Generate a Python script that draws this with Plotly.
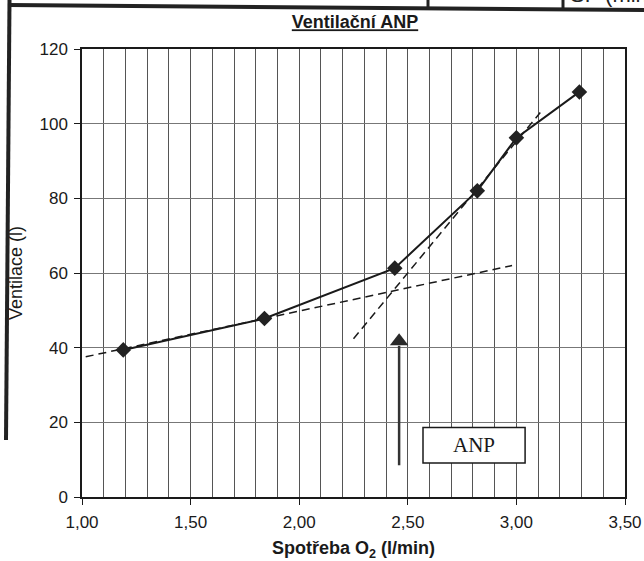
import plotly.graph_objects as go

# ---- data ----
vo2 = [1.19, 1.84, 2.44, 2.82, 3.00, 3.29]          # Spotřeba O2 (l/min)
ventilace = [39.4, 47.8, 61.3, 82.0, 96.2, 108.5]   # Ventilace (l)

trend1_x = [0.90, 2.98]      # lower dashed regression line
trend1_y = [36.1, 62.0]
trend2_x = [2.25, 3.11]      # upper dashed regression line
trend2_y = [42.4, 103.0]

anp_x = [2.46, 2.46]         # arrow shaft marking ANP
anp_y = [8.5, 40.5]
anp_head = [41.7]

anp_box_x = [2.57, 3.04]
anp_box_y = [9.1, 18.6]

x_ticks = [1.0, 1.5, 2.0, 2.5, 3.0, 3.5]
y_ticks = [0, 20, 40, 60, 80, 100, 120]

W, H = 644, 561
L, R, T, B = 82, 19, 49, 64
PW, PH = W - L - R, H - T - B


def px(x):
    return (x - L) / PW


def py(y):
    return (H - B - y) / PH


fig = go.Figure()

fig.add_trace(go.Scatter(x=trend1_x, y=trend1_y, mode="lines",
                         line=dict(color="#1a1a1a", width=1.5, dash="8px,5px"),
                         cliponaxis=False, hoverinfo="skip", showlegend=False))
fig.add_trace(go.Scatter(x=trend2_x, y=trend2_y, mode="lines",
                         line=dict(color="#1a1a1a", width=1.5, dash="8px,5px"),
                         hoverinfo="skip", showlegend=False))
fig.add_trace(go.Scatter(x=vo2, y=ventilace, mode="lines+markers",
                         line=dict(color="#1a1a1a", width=2),
                         marker=dict(symbol="diamond", size=12, color="#222222"),
                         showlegend=False))
fig.add_trace(go.Scatter(x=anp_x, y=anp_y, mode="lines",
                         line=dict(color="#333333", width=2.5),
                         hoverinfo="skip", showlegend=False))
fig.add_trace(go.Scatter(x=[anp_x[0]], y=anp_head, mode="markers",
                         marker=dict(symbol="triangle-up", size=16, color="#2a2a2a"),
                         hoverinfo="skip", showlegend=False))

# ANP label box
fig.add_shape(type="rect", xref="x", yref="y",
              x0=anp_box_x[0], x1=anp_box_x[1], y0=anp_box_y[0], y1=anp_box_y[1],
              line=dict(color="#1a1a1a", width=1.5), fillcolor="white", layer="above")
fig.add_annotation(x=sum(anp_box_x) / 2, y=sum(anp_box_y) / 2, xref="x", yref="y",
                   text="ANP", showarrow=False,
                   font=dict(family="Liberation Serif, Times New Roman, serif", size=21, color="#1a1a1a"))

# scanned form frame (decoration)
frame = [
    ((9.5, 0), (6, 440), 4),
    ((9, 5), (644, 10), 4),
    ((428, 0), (428, 7), 3),
    ((563, 0), (563, 10), 3),
]
for (x0, y0), (x1, y1), w in frame:
    fig.add_shape(type="line", xref="paper", yref="paper",
                  x0=px(x0), y0=py(y0), x1=px(x1), y1=py(y1),
                  line=dict(color="#222222", width=w))
fig.add_annotation(xref="paper", yref="paper", x=px(452), y=py(4), yanchor="bottom",
                   text="100", showarrow=False,
                   font=dict(family="Liberation Sans, Arial", size=22, color="#222"))
fig.add_annotation(xref="paper", yref="paper", x=px(568), y=py(9), xanchor="left", yanchor="bottom",
                   text="SP (min)", showarrow=False,
                   font=dict(family="Liberation Sans, Arial", size=22, color="#222"))

axis_font = dict(family="Liberation Sans, Arial", size=17, color="#1a1a1a")

fig.update_layout(
    width=W, height=H,
    margin=dict(l=L, r=R, t=T, b=B, autoexpand=False),
    paper_bgcolor="white", plot_bgcolor="white",
    separators=", ",
    font=axis_font,
    title=dict(text="<b><u>Ventilační ANP</u></b>", x=px(355), xref="paper",
               xanchor="center", y=1 - 22 / H, yanchor="middle",
               font=dict(family="Liberation Sans, Arial", size=18, color="#1a1a1a")),
    xaxis=dict(range=[1.0, 3.5], tickvals=x_ticks, tickformat=".2f",
               ticks="outside", ticklen=6, tickcolor="#1a1a1a",
               ticklabeloverflow="allow",
               showline=True, linecolor="#1a1a1a", linewidth=1.5, mirror=True,
               showgrid=True, gridcolor="#555555", gridwidth=1,
               minor=dict(dtick=0.1, showgrid=True, gridcolor="#555555", gridwidth=1),
               zeroline=False, tickfont=axis_font, ticklabelstandoff=3,
               title=dict(text="<b>Spotřeba O<sub>2</sub> (l/min)</b>", standoff=10,
                          font=dict(family="Liberation Sans, Arial", size=18, color="#1a1a1a"))),
    yaxis=dict(range=[0, 120], tickvals=y_ticks,
               ticks="outside", ticklen=6, tickcolor="#1a1a1a",
               showline=True, linecolor="#1a1a1a", linewidth=1.5, mirror=True,
               showgrid=True, gridcolor="#777777", gridwidth=1,
               zeroline=False, tickfont=axis_font, ticklabelstandoff=3,
               title=dict(text="Ventilace (l)", standoff=12,
                          font=dict(family="Liberation Sans, Arial", size=18, color="#1a1a1a"))),
)

fig.write_html("out.html")
